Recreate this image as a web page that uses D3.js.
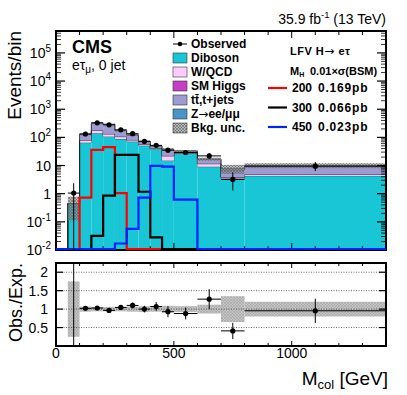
<!DOCTYPE html>
<html>
<head>
<meta charset="utf-8">
<script src="https://cdn.jsdelivr.net/npm/d3@7"></script>
<style>
body{margin:0;background:#fff}
svg{display:block;font-family:"Liberation Sans",Arial,sans-serif}
.arr{font-family:"DejaVu Sans",sans-serif;font-weight:normal}
</style>
</head>
<body>
<svg id="chart" width="407" height="395"></svg>
<script>
// bin edges in M_col (GeV)
const edges = [50,100,150,200,250,300,350,400,450,500,600,700,800,1400];

// stacked backgrounds, events/bin
const diboson = [0.44, 65, 140, 107, 88, 71, 51, 38, 15, 27, 9.1, 3.5, 4.3];
const wqcd    = [0.003, 15, 35, 25, 18, 10, 5, 3, 7, 1, 2.5, 0.3, 0.6];
const smHiggs = [0.001, 0.5, 1.5, 1.5, 1, 0.6, 0.4, 0.3, 0.2, 0.15, 0.08, 0.03, 0.03];
const ttbar   = [0.004, 44.5, 133.5, 148.5, 65, 38.4, 13.6, 6.7, 15, 4.25, 5, 3.2, 4.8];
const zll     = [0.002, 5, 10, 8, 5, 3, 2, 1, 0.8, 0.6, 0.3, 0.8, 0.3];
const bkgUnc  = [0.75, 0.07, 0.06, 0.06, 0.06, 0.07, 0.08, 0.07, 0.09, 0.08, 0.12, 0.35, 0.2];

// data
const observed = [1.05, 132, 330, 280, 185, 135, 72, 52, 35, 29, 22, 3.2, 9.5];
const obsErrLo = [1.05, 11, 18, 17, 14, 11, 8.5, 7, 6, 5, 4.6, 1.9, 3.1];
const obsErrHi = [1.3, 12, 19, 18, 14, 12, 9, 7.5, 6.5, 5.5, 5.2, 2.5, 3.8];

// signals
const sig200 = [0, 0.72, 36, 45, 1.05, 0, 0, 0, 0, 0, 0, 0, 0];
const sig300 = [0, 0, 0.032, 0.85, 24, 24, 1.17, 0.028, 0, 0, 0, 0, 0];
const sig450 = [0, 0, 0, 0, 0.017, 0.056, 0.72, 9.7, 9.1, 0.62, 0, 0, 0];

// ratio panel
const ratio    = [2.33, 1.02, 1.03, 0.965, 1.045, 1.1, 1.0, 1.07, 0.93, 0.88, 1.27, 0.41, 0.955];
const ratioErr = [2.6, 0.05, 0.04, 0.05, 0.06, 0.08, 0.09, 0.12, 0.15, 0.16, 0.27, 0.22, 0.33];

const yTicks = [-2,-1,0,1,2,3,4,5];
const rTicks = [0.5,1,1.5,2];
const xTicks = [0,500,1000];

const svg = d3.select("#chart");
const L = 56, R = 386, T = 31, B = 250, RT = 263, RB = 346;

const x = d3.scaleLinear().domain([0,1400]).range([L,R]);
const y = d3.scaleLog().domain([0.01,6e5]).range([B,T]).clamp(true);
const yr = d3.scaleLinear().domain([0,2.25]).range([RB,RT]);

const defs = svg.append("defs");
defs.append("clipPath").attr("id","cTop").append("rect")
  .attr("x",L).attr("y",T).attr("width",R-L).attr("height",B-T);
defs.append("clipPath").attr("id","cBot").append("rect")
  .attr("x",L).attr("y",RT).attr("width",R-L).attr("height",RB-RT);
let p = defs.append("pattern").attr("id","hatch").attr("width",3).attr("height",3)
  .attr("patternUnits","userSpaceOnUse");
p.append("rect").attr("width",3).attr("height",3).attr("fill","#8a8a8a").attr("fill-opacity",0.6);
p.append("path").attr("d","M0,0L3,3M3,0L0,3").attr("stroke","#555").attr("stroke-width",0.5);
p = defs.append("pattern").attr("id","hatch2").attr("width",3).attr("height",3)
  .attr("patternUnits","userSpaceOnUse");
p.append("rect").attr("width",3).attr("height",3).attr("fill","#c4c4c4");
p.append("path").attr("d","M0,0L3,3M3,0L0,3").attr("stroke","#a0a0a0").attr("stroke-width",0.5);

const layers = [
  {name:"Diboson", vals:diboson, col:"#18c6d6"},
  {name:"W/QCD", vals:wqcd, col:"#ffccff"},
  {name:"SM Higgs", vals:smHiggs, col:"#c63fc6"},
  {name:"tt", vals:ttbar, col:"#9c9cd0"},
  {name:"Z", vals:zll, col:"#4a93c6"}
];

const topG = svg.append("g").attr("clip-path","url(#cTop)");
let cum = edges.slice(1).map(() => 0);
const total = cum.map((_,i) => layers.reduce((s,l) => s + l.vals[i], 0));

layers.forEach(l => {
  const lo = cum.slice();
  const hi = cum.map((c,i) => c + l.vals[i]);
  topG.selectAll(null).data(hi).enter().append("rect")
    .attr("x",(d,i) => x(edges[i]))
    .attr("width",(d,i) => x(edges[i+1]) - x(edges[i]))
    .attr("y",d => y(d))
    .attr("height",(d,i) => (lo[i] > 0 ? y(lo[i]) : B) - y(hi[i]))
    .attr("fill",l.col);
  let path = "M" + x(edges[0]) + "," + B;
  hi.forEach((d,i) => { path += "L" + x(edges[i]) + "," + y(d) + "L" + x(edges[i+1]) + "," + y(d); });
  path += "L" + x(edges[edges.length-1]) + "," + B;
  topG.append("path").attr("d",path).attr("fill","none").attr("stroke","#222").attr("stroke-width",0.6);
  cum = hi;
});

// bkg uncertainty
topG.selectAll(null).data(total).enter().append("rect")
  .attr("x",(d,i) => x(edges[i]))
  .attr("width",(d,i) => x(edges[i+1]) - x(edges[i]))
  .attr("y",(d,i) => y(d*(1+bkgUnc[i])))
  .attr("height",(d,i) => y(d*(1-bkgUnc[i])) - y(d*(1+bkgUnc[i])))
  .attr("fill","url(#hatch)");

// frame + ticks helper
function frame(yScale, yT, yB, yMajor, yMinor, xMaj, xMin, yMajLen, yMinLen) {
  const g = svg.append("g").attr("stroke","#000");
  d3.range(0,1401,100).forEach(v => {
    const len = v % 500 === 0 ? xMaj : xMin;
    g.append("line").attr("x1",x(v)).attr("x2",x(v)).attr("y1",yB).attr("y2",yB-len).attr("stroke-width",1);
    g.append("line").attr("x1",x(v)).attr("x2",x(v)).attr("y1",yT).attr("y2",yT+len).attr("stroke-width",1);
  });
  yMajor.forEach(v => {
    g.append("line").attr("x1",L).attr("x2",L+yMajLen).attr("y1",yScale(v)).attr("y2",yScale(v)).attr("stroke-width",1.2);
    g.append("line").attr("x1",R).attr("x2",R-yMajLen).attr("y1",yScale(v)).attr("y2",yScale(v)).attr("stroke-width",1.2);
  });
  yMinor.forEach(v => {
    g.append("line").attr("x1",L).attr("x2",L+yMinLen).attr("y1",yScale(v)).attr("y2",yScale(v)).attr("stroke-width",0.8);
    g.append("line").attr("x1",R).attr("x2",R-yMinLen).attr("y1",yScale(v)).attr("y2",yScale(v)).attr("stroke-width",0.8);
  });
  g.append("rect").attr("x",L).attr("y",yT).attr("width",R-L).attr("height",yB-yT)
    .attr("fill","none").attr("stroke-width",2);
}

const logMinor = [];
yTicks.forEach(e => { for (let k = 2; k <= 9; k++) { const v = k*Math.pow(10,e); if (v < 6e5) logMinor.push(v); } });
frame(y, T, B, yTicks.map(e => Math.pow(10,e)), logMinor, 7, 4, 9, 5);

// signal histograms
function sigLine(vals, col) {
  const yy = v => v > 0 ? Math.min(y(v), B-1) : B-1;
  let path = "M" + x(0) + "," + (B-1);
  vals.forEach((v,i) => { path += "L" + x(edges[i]) + "," + yy(v) + "L" + x(edges[i+1]) + "," + yy(v); });
  svg.append("path").attr("d",path).attr("fill","none").attr("stroke",col).attr("stroke-width",2.2)
    .attr("clip-path","url(#cTop)");
}
sigLine(sig200, "#ff0000");
sigLine(sig300, "#000000");
sigLine(sig450, "#0022ff");

// observed points
const obs = svg.append("g").attr("clip-path","url(#cTop)");
observed.forEach((v,i) => {
  const xm = x((edges[i]+edges[i+1])/2);
  obs.append("line").attr("x1",xm).attr("x2",xm).attr("y1",y(v+obsErrHi[i])).attr("y2",y(Math.max(v-obsErrLo[i],1e-4)))
    .attr("stroke","#000").attr("stroke-width",1);
  obs.append("line").attr("x1",x(edges[i])).attr("x2",x(edges[i+1])).attr("y1",y(v)).attr("y2",y(v))
    .attr("stroke","#000").attr("stroke-width",1);
  obs.append("circle").attr("cx",xm).attr("cy",y(v)).attr("r",2.6).attr("fill","#000");
});

// ratio panel
const bot = svg.append("g").attr("clip-path","url(#cBot)");
bot.selectAll(null).data(bkgUnc).enter().append("rect")
  .attr("x",(d,i) => x(edges[i]))
  .attr("width",(d,i) => x(edges[i+1]) - x(edges[i]))
  .attr("y",d => yr(1+d))
  .attr("height",d => yr(1-d) - yr(1+d))
  .attr("fill","url(#hatch2)");
rTicks.forEach(v => {
  bot.append("line").attr("x1",L).attr("x2",R).attr("y1",yr(v)).attr("y2",yr(v))
    .attr("stroke","#444").attr("stroke-width",0.8).attr("stroke-dasharray","1,1.5");
});
ratio.forEach((v,i) => {
  const xm = x((edges[i]+edges[i+1])/2);
  bot.append("line").attr("x1",xm).attr("x2",xm).attr("y1",yr(v+ratioErr[i])).attr("y2",yr(v-ratioErr[i]))
    .attr("stroke","#000").attr("stroke-width",1);
  bot.append("line").attr("x1",x(edges[i])).attr("x2",x(edges[i+1])).attr("y1",yr(v)).attr("y2",yr(v))
    .attr("stroke","#000").attr("stroke-width",1);
  bot.append("circle").attr("cx",xm).attr("cy",yr(v)).attr("r",2.6).attr("fill","#000");
});
frame(yr, RT, RB, rTicks, [], 5, 3, 7, 4);

// axis labels
const lab = svg.append("g").attr("font-size",14).attr("fill","#000");
yTicks.forEach(e => {
  const t = lab.append("text").attr("x",51).attr("y",y(Math.pow(10,e))+5).attr("text-anchor","end");
  if (e === 0) t.text("1");
  else if (e === 1) t.text("10");
  else { t.append("tspan").text("10"); t.append("tspan").attr("dy",-6).attr("font-size",10).text(e); }
});
rTicks.forEach(v => {
  lab.append("text").attr("x",48).attr("y",yr(v)+5).attr("text-anchor","end").text(v);
});
xTicks.forEach(v => {
  lab.append("text").attr("x",x(v)).attr("y",358).attr("text-anchor","middle").text(v);
});

svg.append("text").attr("transform","translate(21,31) rotate(-90)").attr("text-anchor","end")
  .attr("font-size",19).text("Events/bin");
svg.append("text").attr("transform","translate(22,263) rotate(-90)").attr("text-anchor","end")
  .attr("font-size",18).text("Obs./Exp.");
const xl = svg.append("text").attr("x",388).attr("y",385).attr("text-anchor","end").attr("font-size",19);
xl.append("tspan").text("M");
xl.append("tspan").attr("dy",4).attr("font-size",13).text("col");
xl.append("tspan").attr("dy",-4).text(" [GeV]");

const lumi = svg.append("text").attr("x",386).attr("y",24).attr("text-anchor","end").attr("font-size",14);
lumi.append("tspan").text("35.9 fb");
lumi.append("tspan").attr("dy",-6).attr("font-size",9.5).text("-1");
lumi.append("tspan").attr("dy",6).text(" (13 TeV)");

svg.append("text").attr("x",72).attr("y",53).attr("font-size",18).attr("font-weight","bold").text("CMS");
const ch = svg.append("text").attr("x",72).attr("y",70).attr("font-size",14);
ch.append("tspan").text("eτ");
ch.append("tspan").attr("dy",3).attr("font-size",10).text("μ");
ch.append("tspan").attr("dy",-3).text(", 0 jet");

// legend
const leg = svg.append("g").attr("font-size",12).attr("font-weight","bold");
const legRows = [
  {label:"Observed", type:"obs"},
  {label:"Diboson", col:layers[0].col},
  {label:"W/QCD", col:layers[1].col},
  {label:"SM Higgs", col:layers[2].col},
  {label:"tt̄,t+jets", col:layers[3].col},
  {label:["Z","→","ee/μμ"], col:layers[4].col},
  {label:"Bkg. unc.", col:"url(#hatch)"}
];
legRows.forEach((r,i) => {
  const by = 48 + i*14;
  if (r.type === "obs") {
    leg.append("line").attr("x1",173).attr("x2",187).attr("y1",by-4).attr("y2",by-4).attr("stroke","#000").attr("stroke-width",1);
    leg.append("circle").attr("cx",180).attr("cy",by-4).attr("r",2.3).attr("fill","#000");
  } else {
    leg.append("rect").attr("x",173).attr("y",by-9).attr("width",14).attr("height",10)
      .attr("fill",r.col).attr("stroke","#333").attr("stroke-width",0.6);
  }
  const t = leg.append("text").attr("x",191).attr("y",by);
  if (Array.isArray(r.label)) {
    t.append("tspan").text(r.label[0]);
    t.append("tspan").attr("class","arr").text(r.label[1]);
    t.append("tspan").text(r.label[2]);
  } else t.text(r.label);
});

const leg2 = svg.append("g").attr("font-size",11).attr("font-weight","bold");
const lfv = leg2.append("text").attr("x",290).attr("y",55).attr("letter-spacing",0.5);
lfv.append("tspan").text("LFV H");
lfv.append("tspan").attr("class","arr").attr("font-size",12).text("→");
lfv.append("tspan").text(" eτ");
const mh = leg2.append("text").attr("x",290).attr("y",75);
mh.append("tspan").text("M");
mh.append("tspan").attr("dy",2).attr("font-size",7).text("H");
mh.append("tspan").attr("dy",-2).attr("x",310).text("0.01×σ(BSM)");
const sigLeg = [
  {m:"200", xs:"0.169pb", col:"#ff0000"},
  {m:"300", xs:"0.066pb", col:"#000000"},
  {m:"450", xs:"0.023pb", col:"#0022ff"}
];
sigLeg.forEach((s,i) => {
  const cy = 88 + i*19.5;
  leg2.append("line").attr("x1",268).attr("x2",287).attr("y1",cy).attr("y2",cy).attr("stroke",s.col).attr("stroke-width",2.2);
  leg2.append("text").attr("x",292).attr("y",cy+4).attr("font-size",12).text(s.m);
  leg2.append("text").attr("x",318).attr("y",cy+4).attr("font-size",12).attr("letter-spacing",0.8).text(s.xs);
});
</script>
</body>
</html>
